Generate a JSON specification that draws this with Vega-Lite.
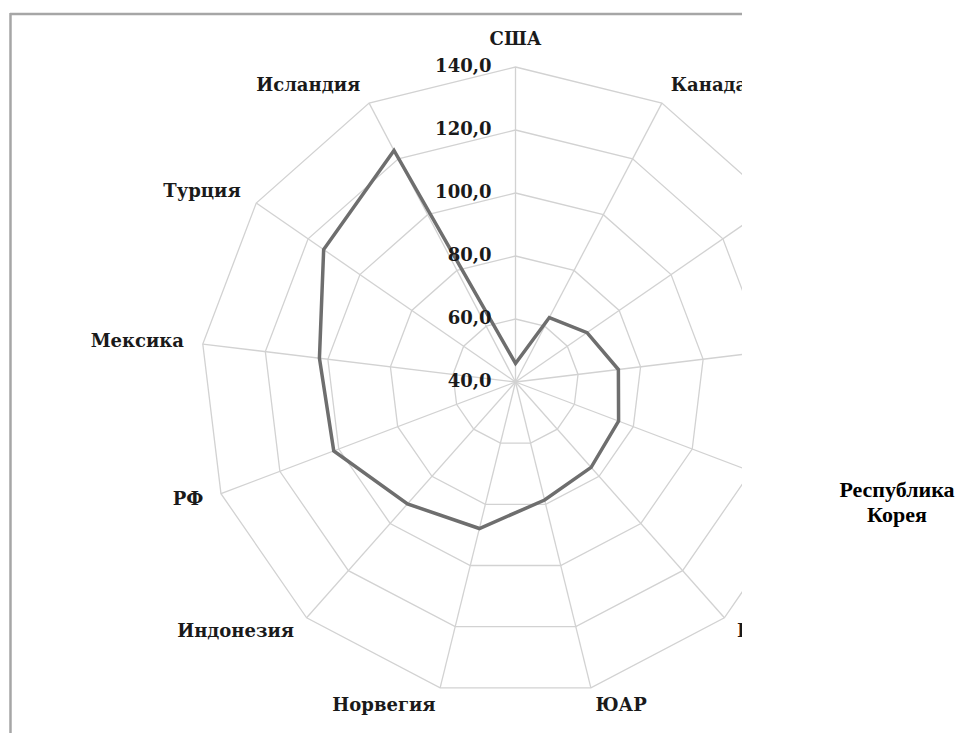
{
  "$schema": "https://vega.github.io/schema/vega-lite/v6.json",
  "autosize": "none",
  "width": 732,
  "height": 720,
  "padding": {"left": 10, "top": 13, "right": 226, "bottom": 0},
  "background": "white",
  "config": {"view": {"stroke": null}},
  "datasets": {
    "countries": [
      {"country": "США", "idx": 0, "value": 45.9},
      {"country": "Канада", "idx": 1, "value": 63.1},
      {"country": "Япония", "idx": 2, "value": 67.6},
      {"country": "Германия", "idx": 3, "value": 72.9},
      {"country": "Республика Корея", "idx": 4, "value": 75.0},
      {"country": "Италия", "idx": 5, "value": 76.2},
      {"country": "ЮАР", "idx": 6, "value": 78.6},
      {"country": "Норвегия", "idx": 7, "value": 87.9},
      {"country": "Индонезия", "idx": 8, "value": 91.7},
      {"country": "РФ", "idx": 9, "value": 101.7},
      {"country": "Мексика", "idx": 10, "value": 102.7},
      {"country": "Турция", "idx": 11, "value": 114.0},
      {"country": "Исландия", "idx": 12, "value": 123.0}
    ],
    "ticks": [
      {"level": 40}, {"level": 60}, {"level": 80},
      {"level": 100}, {"level": 120}, {"level": 140}
    ]
  },
  "layer": [
    {
      "data": {"name": "countries"},
      "transform": [
        {"calculate": "[40, 60, 80, 100, 120, 140]", "as": "ring"},
        {"flatten": ["ring"]},
        {"calculate": "datum.idx * 2 * PI / 13", "as": "ang"},
        {"calculate": "(datum.ring - 40) * sin(datum.ang)", "as": "px"},
        {"calculate": "(datum.ring - 40) * cos(datum.ang)", "as": "py"}
      ],
      "mark": {"type": "line", "interpolate": "linear-closed", "stroke": "#d2d2d2", "strokeWidth": 1.3, "clip": true},
      "encoding": {
        "x": {"field": "px", "type": "quantitative", "scale": {"domain": [-160.476, 71.905], "nice": false, "zero": false}, "axis": null},
        "y": {"field": "py", "type": "quantitative", "scale": {"domain": [-111.429, 117.143], "nice": false, "zero": false}, "axis": null},
        "detail": {"field": "ring", "type": "nominal"},
        "order": {"field": "idx", "type": "quantitative"}
      }
    },
    {
      "data": {"name": "countries"},
      "transform": [
        {"calculate": "datum.idx * 2 * PI / 13", "as": "ang"},
        {"calculate": "100 * sin(datum.ang)", "as": "px"},
        {"calculate": "100 * cos(datum.ang)", "as": "py"}
      ],
      "mark": {"type": "rule", "stroke": "#d2d2d2", "strokeWidth": 1.3, "clip": true},
      "encoding": {
        "x": {"field": "px", "type": "quantitative", "axis": null},
        "y": {"field": "py", "type": "quantitative", "axis": null},
        "x2": {"datum": 0},
        "y2": {"datum": 0}
      }
    },
    {
      "data": {"name": "countries"},
      "transform": [
        {"calculate": "datum.idx * 2 * PI / 13", "as": "ang"},
        {"calculate": "(datum.value - 40) * sin(datum.ang)", "as": "px"},
        {"calculate": "(datum.value - 40) * cos(datum.ang)", "as": "py"}
      ],
      "mark": {"type": "line", "interpolate": "linear-closed", "stroke": "#6e6e6e", "strokeWidth": 3.5, "strokeJoin": "miter", "clip": true},
      "encoding": {
        "x": {"field": "px", "type": "quantitative", "axis": null},
        "y": {"field": "py", "type": "quantitative", "axis": null},
        "order": {"field": "idx", "type": "quantitative"}
      }
    },
    {
      "data": {"name": "ticks"},
      "transform": [
        {"calculate": "0", "as": "px"},
        {"calculate": "datum.level - 40", "as": "py"},
        {"calculate": "replace(format(datum.level, '.1f'), '.', ',')", "as": "label"}
      ],
      "mark": {"type": "text", "align": "right", "baseline": "middle", "dx": -24, "font": "DejaVu Serif", "fontWeight": "bold", "fontSize": 18, "fill": "#1a1a1a"},
      "encoding": {
        "x": {"field": "px", "type": "quantitative", "axis": null},
        "y": {"field": "py", "type": "quantitative", "axis": null},
        "text": {"field": "label", "type": "nominal"}
      }
    },
    {
      "data": {"name": "countries"},
      "transform": [
        {"filter": "datum.country != 'Республика Корея'"},
        {"calculate": "datum.idx * 2 * PI / 13", "as": "ang"},
        {"filter": "sin(datum.ang) > 0.2"},
        {"calculate": "106 * sin(datum.ang)", "as": "px"},
        {"calculate": "106 * cos(datum.ang)", "as": "py"}
      ],
      "mark": {"type": "text", "align": "left", "baseline": "middle", "font": "DejaVu Serif", "fontWeight": "bold", "fontSize": 18, "fill": "#1a1a1a", "clip": true},
      "encoding": {
        "x": {"field": "px", "type": "quantitative", "axis": null},
        "y": {"field": "py", "type": "quantitative", "axis": null},
        "text": {"field": "country", "type": "nominal"}
      }
    },
    {
      "data": {"name": "countries"},
      "transform": [
        {"calculate": "datum.idx * 2 * PI / 13", "as": "ang"},
        {"filter": "sin(datum.ang) < -0.2"},
        {"calculate": "106 * sin(datum.ang)", "as": "px"},
        {"calculate": "106 * cos(datum.ang)", "as": "py"}
      ],
      "mark": {"type": "text", "align": "right", "baseline": "middle", "font": "DejaVu Serif", "fontWeight": "bold", "fontSize": 18, "fill": "#1a1a1a", "clip": true},
      "encoding": {
        "x": {"field": "px", "type": "quantitative", "axis": null},
        "y": {"field": "py", "type": "quantitative", "axis": null},
        "text": {"field": "country", "type": "nominal"}
      }
    },
    {
      "data": {"name": "countries"},
      "transform": [
        {"calculate": "datum.idx * 2 * PI / 13", "as": "ang"},
        {"filter": "abs(sin(datum.ang)) <= 0.2"},
        {"calculate": "108.5 * sin(datum.ang)", "as": "px"},
        {"calculate": "108.5 * cos(datum.ang)", "as": "py"}
      ],
      "mark": {"type": "text", "align": "center", "baseline": "middle", "font": "DejaVu Serif", "fontWeight": "bold", "fontSize": 18, "fill": "#1a1a1a", "clip": true},
      "encoding": {
        "x": {"field": "px", "type": "quantitative", "axis": null},
        "y": {"field": "py", "type": "quantitative", "axis": null},
        "text": {"field": "country", "type": "nominal"}
      }
    },
    {
      "data": {"name": "countries"},
      "transform": [
        {"filter": "datum.country == 'Республика Корея'"}
      ],
      "mark": {"type": "text", "align": "center", "baseline": "alphabetic", "lineBreak": " ", "lineHeight": 25, "font": "Liberation Serif", "fontWeight": "bold", "fontSize": 22, "fill": "#000000"},
      "encoding": {
        "x": {"datum": 121.1},
        "y": {"datum": -36.5},
        "text": {"field": "country", "type": "nominal"}
      }
    },
    {
      "data": {"name": "ticks"},
      "transform": [{"filter": "datum.level == 140"}],
      "mark": {"type": "rule", "stroke": "#a6a6a6", "strokeWidth": 2.5},
      "encoding": {
        "x": {"datum": -160.476},
        "x2": {"datum": 71.905},
        "y": {"datum": 116.83}
      }
    },
    {
      "data": {"name": "ticks"},
      "transform": [{"filter": "datum.level == 140"}],
      "mark": {"type": "rule", "stroke": "#a6a6a6", "strokeWidth": 2.5},
      "encoding": {
        "x": {"datum": -160.32},
        "y": {"datum": 117.143},
        "y2": {"datum": -111.429}
      }
    }
  ]
}
